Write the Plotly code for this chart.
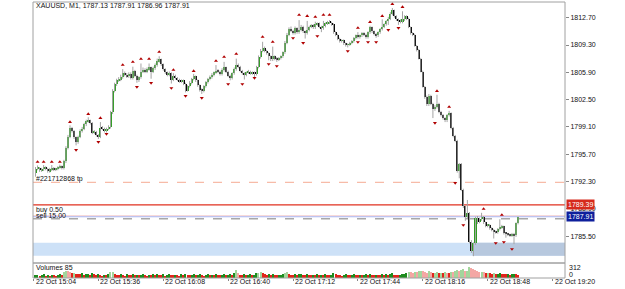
import plotly.graph_objects as go
import pandas as pd

# ---------------- data ----------------
title_text = "XAUUSD, M1, 1787.13 1787.91 1786.96 1787.91"
first_bar = "2021-10-22 15:05"
axis_origin = "2021-10-22 15:04"

opens = [
    1793.3, 1793.9, 1794.0, 1793.7, 1793.8, 1794.1, 1793.9, 1793.6, 1793.8, 1794.0,
    1793.8, 1793.9, 1794.1, 1794.2, 1794.0, 1794.8, 1796.5, 1797.9, 1799.0, 1798.6,
    1797.8, 1797.2, 1797.9, 1798.6, 1798.9, 1799.4, 1799.8, 1799.9, 1799.6, 1798.4,
    1798.5, 1798.1, 1797.8, 1799.0, 1798.9, 1798.6, 1798.9, 1799.1, 1800.9, 1803.6,
    1804.4, 1804.9, 1805.0, 1805.3, 1805.8, 1805.6, 1805.4, 1805.7, 1805.2, 1806.1,
    1805.5, 1804.9, 1805.3, 1806.0, 1806.2, 1806.0, 1806.3, 1806.5, 1806.0, 1806.4,
    1806.8, 1807.3, 1807.5, 1806.9, 1806.3, 1805.9, 1805.6, 1805.8, 1805.0, 1805.5,
    1805.2, 1805.0, 1804.8, 1804.9, 1804.5, 1803.6, 1804.2, 1804.6, 1805.1, 1805.4,
    1804.9, 1804.3, 1803.7, 1803.6, 1804.2, 1804.7, 1805.1, 1805.3, 1805.6, 1805.9,
    1806.1, 1806.0, 1805.7, 1806.2, 1806.5, 1806.0, 1805.5, 1805.2, 1805.8, 1806.3,
    1806.8, 1806.6, 1806.1, 1805.8, 1805.6, 1805.9, 1806.0, 1805.8, 1805.9, 1805.7,
    1806.6, 1807.8, 1808.6, 1808.9, 1808.6, 1808.3, 1807.9, 1807.5, 1807.9, 1807.6,
    1807.5, 1807.7, 1807.9, 1808.4, 1809.6, 1810.6, 1811.3, 1811.1, 1810.8, 1811.4,
    1810.9, 1811.2, 1811.6, 1811.0, 1810.8, 1811.2, 1811.6, 1811.8, 1811.5, 1811.9,
    1812.0, 1811.6, 1811.4, 1811.7, 1812.0, 1812.2, 1812.1, 1811.9, 1810.9, 1810.6,
    1810.1, 1809.8, 1809.9, 1809.5, 1809.3, 1809.4, 1809.6, 1809.8, 1810.2, 1810.5,
    1810.3, 1810.5, 1810.8, 1810.6, 1810.3, 1810.9, 1811.5, 1811.0, 1810.7, 1810.5,
    1810.9, 1811.3, 1811.6, 1811.9, 1812.3, 1812.6, 1813.2, 1813.6, 1812.9, 1812.5,
    1812.4, 1812.2, 1812.5, 1812.9, 1812.6, 1811.5, 1810.8, 1810.6, 1809.2, 1808.7,
    1807.6, 1806.0, 1804.1, 1802.8, 1801.9, 1803.0, 1802.0, 1801.3, 1801.6, 1802.0,
    1801.0, 1800.6, 1800.2, 1799.9, 1800.6, 1800.8, 1799.0, 1798.0, 1797.4, 1793.6,
    1794.5, 1791.3, 1789.2, 1787.9, 1788.4, 1784.8, 1783.6, 1784.6, 1787.8, 1787.3,
    1787.6, 1787.9, 1787.2, 1786.8, 1786.9, 1786.5, 1786.3, 1786.1, 1786.0, 1786.4,
    1786.6, 1786.7, 1785.9, 1785.8, 1785.7, 1785.6, 1785.8, 1785.6, 1787.13,
]
highs = [
    1794.1, 1794.3, 1794.1, 1794.0, 1794.35, 1794.2, 1794.0, 1794.0, 1794.35, 1794.1,
    1794.0, 1794.2, 1794.4, 1794.3, 1795.0, 1796.7, 1798.1, 1799.3, 1799.1, 1798.7,
    1797.9, 1798.0, 1798.8, 1799.1, 1799.6, 1800.0, 1800.3, 1800.0, 1799.7, 1798.7,
    1798.6, 1798.2, 1799.7, 1799.2, 1799.0, 1799.0, 1799.3, 1801.1, 1803.8, 1804.6,
    1805.1, 1805.3, 1805.6, 1806.3, 1806.0, 1805.8, 1805.9, 1805.9, 1806.6, 1806.2,
    1805.6, 1805.4, 1807.0, 1806.5, 1806.4, 1806.5, 1807.0, 1806.6, 1806.6, 1807.0,
    1807.6, 1807.9, 1807.6, 1807.0, 1806.4, 1806.0, 1806.0, 1805.9, 1805.8, 1805.6,
    1805.3, 1805.1, 1805.0, 1805.0, 1804.6, 1804.3, 1804.8, 1805.2, 1805.7, 1805.5,
    1805.0, 1804.4, 1803.9, 1804.3, 1804.8, 1805.2, 1805.5, 1805.8, 1806.0, 1806.8,
    1806.3, 1806.1, 1806.4, 1807.2, 1806.6, 1806.1, 1805.6, 1805.9, 1806.5, 1807.6,
    1807.0, 1806.7, 1806.2, 1805.9, 1806.0, 1806.2, 1806.1, 1806.0, 1806.0, 1806.7,
    1808.0, 1808.8, 1809.7, 1809.1, 1808.7, 1808.4, 1808.0, 1809.1, 1808.0, 1807.8,
    1807.8, 1808.0, 1808.5, 1809.8, 1810.8, 1811.5, 1811.6, 1811.2, 1811.6, 1811.5,
    1812.4, 1811.8, 1811.7, 1811.1, 1812.3, 1811.7, 1811.9, 1811.9, 1812.2, 1812.1,
    1812.1, 1811.7, 1812.3, 1812.1, 1812.3, 1812.4, 1812.2, 1812.0, 1811.0, 1810.7,
    1810.2, 1810.0, 1810.0, 1809.6, 1809.5, 1809.7, 1809.9, 1810.3, 1810.6, 1810.9,
    1810.6, 1810.9, 1810.9, 1810.7, 1811.0, 1811.7, 1811.6, 1811.1, 1810.8, 1811.0,
    1811.4, 1812.5, 1812.0, 1812.4, 1812.8, 1813.4, 1813.9, 1813.7, 1813.0, 1812.6,
    1812.5, 1813.5, 1813.0, 1813.0, 1812.7, 1811.6, 1810.9, 1810.7, 1809.3, 1808.8,
    1807.7, 1806.1, 1804.2, 1803.0, 1803.2, 1803.1, 1802.1, 1801.8, 1803.1, 1802.1,
    1801.1, 1800.7, 1800.3, 1800.7, 1801.1, 1800.9, 1799.1, 1798.1, 1797.5, 1794.6,
    1794.6, 1791.4, 1789.3, 1790.0, 1788.5, 1785.0, 1784.7, 1787.9, 1788.0, 1787.8,
    1788.4, 1788.0, 1787.3, 1787.0, 1787.0, 1786.6, 1786.4, 1786.2, 1786.5, 1787.6,
    1786.9, 1786.8, 1786.0, 1785.9, 1785.8, 1785.9, 1785.9, 1787.2, 1787.91,
]
lows = [
    1792.9, 1793.7, 1793.5, 1793.5, 1793.6, 1793.7, 1793.4, 1793.4, 1793.6, 1793.6,
    1793.6, 1793.7, 1793.9, 1793.8, 1793.8, 1794.6, 1796.3, 1797.7, 1798.4, 1797.6,
    1796.8, 1797.0, 1797.7, 1798.4, 1798.7, 1799.2, 1799.6, 1799.4, 1798.2, 1798.2,
    1797.9, 1797.6, 1797.7, 1798.7, 1798.4, 1798.4, 1798.7, 1798.9, 1800.7, 1803.4,
    1804.2, 1804.7, 1804.8, 1805.1, 1805.4, 1805.2, 1805.2, 1805.0, 1805.0, 1805.3,
    1804.6, 1804.7, 1805.1, 1805.8, 1805.8, 1805.8, 1806.1, 1805.1, 1805.8, 1806.2,
    1806.6, 1807.1, 1806.7, 1806.1, 1805.7, 1805.4, 1805.4, 1804.5, 1804.8, 1805.0,
    1804.8, 1804.6, 1804.6, 1804.3, 1803.4, 1803.5, 1804.0, 1804.4, 1804.9, 1804.7,
    1804.1, 1803.5, 1803.2, 1803.4, 1804.0, 1804.5, 1804.9, 1805.1, 1805.4, 1805.7,
    1805.8, 1805.5, 1805.5, 1806.0, 1805.8, 1805.3, 1804.9, 1805.0, 1805.6, 1806.1,
    1806.4, 1805.9, 1805.6, 1805.0, 1805.4, 1805.7, 1805.6, 1805.6, 1805.3, 1805.5,
    1806.4, 1807.6, 1808.4, 1808.4, 1808.1, 1807.4, 1807.3, 1807.3, 1807.4, 1807.2,
    1807.3, 1807.5, 1807.7, 1808.2, 1809.4, 1810.4, 1810.9, 1810.6, 1810.6, 1810.7,
    1810.7, 1811.0, 1810.8, 1810.1, 1810.6, 1811.0, 1811.4, 1811.3, 1811.3, 1811.7,
    1811.4, 1810.9, 1811.2, 1811.5, 1811.8, 1811.9, 1811.7, 1810.7, 1810.4, 1809.9,
    1809.6, 1809.6, 1809.3, 1809.1, 1809.0, 1809.2, 1809.4, 1809.6, 1810.0, 1810.1,
    1810.1, 1810.3, 1810.4, 1810.1, 1810.1, 1810.7, 1810.8, 1810.5, 1810.2, 1810.3,
    1810.7, 1811.1, 1811.4, 1811.7, 1811.8, 1812.4, 1813.0, 1812.7, 1812.3, 1811.8,
    1812.0, 1812.0, 1812.3, 1812.4, 1811.4, 1810.6, 1810.4, 1809.1, 1808.5, 1807.5,
    1805.9, 1804.0, 1802.6, 1801.7, 1801.7, 1801.8, 1800.2, 1801.1, 1801.4, 1800.8,
    1800.4, 1800.0, 1799.7, 1799.7, 1800.4, 1798.8, 1797.8, 1797.2, 1793.4, 1792.7,
    1791.1, 1789.0, 1787.4, 1787.7, 1784.6, 1783.4, 1783.0, 1784.4, 1787.0, 1787.1,
    1787.4, 1787.0, 1786.6, 1786.6, 1786.3, 1786.1, 1785.2, 1785.8, 1785.8, 1786.2,
    1786.4, 1785.7, 1785.3, 1785.5, 1785.4, 1785.4, 1784.5, 1785.4, 1786.96,
]
closes = [
    1793.9, 1794.0, 1793.7, 1793.8, 1794.1, 1793.9, 1793.6, 1793.8, 1794.0, 1793.8,
    1793.9, 1794.1, 1794.2, 1794.0, 1794.8, 1796.5, 1797.9, 1799.0, 1798.6, 1797.8,
    1797.2, 1797.9, 1798.6, 1798.9, 1799.4, 1799.8, 1799.9, 1799.6, 1798.4, 1798.5,
    1798.1, 1797.8, 1799.0, 1798.9, 1798.6, 1798.9, 1799.1, 1800.9, 1803.6, 1804.4,
    1804.9, 1805.0, 1805.3, 1805.8, 1805.6, 1805.4, 1805.7, 1805.2, 1806.1, 1805.5,
    1804.9, 1805.3, 1806.0, 1806.2, 1806.0, 1806.3, 1806.5, 1806.0, 1806.4, 1806.8,
    1807.3, 1807.5, 1806.9, 1806.3, 1805.9, 1805.6, 1805.8, 1805.0, 1805.5, 1805.2,
    1805.0, 1804.8, 1804.9, 1804.5, 1803.6, 1804.2, 1804.6, 1805.1, 1805.4, 1804.9,
    1804.3, 1803.7, 1803.6, 1804.2, 1804.7, 1805.1, 1805.3, 1805.6, 1805.9, 1806.1,
    1806.0, 1805.7, 1806.2, 1806.5, 1806.0, 1805.5, 1805.2, 1805.8, 1806.3, 1806.8,
    1806.6, 1806.1, 1805.8, 1805.6, 1805.9, 1806.0, 1805.8, 1805.9, 1805.7, 1806.6,
    1807.8, 1808.6, 1808.9, 1808.6, 1808.3, 1807.9, 1807.5, 1807.9, 1807.6, 1807.5,
    1807.7, 1807.9, 1808.4, 1809.6, 1810.6, 1811.3, 1811.1, 1810.8, 1811.4, 1810.9,
    1811.2, 1811.6, 1811.0, 1810.8, 1811.2, 1811.6, 1811.8, 1811.5, 1811.9, 1812.0,
    1811.6, 1811.4, 1811.7, 1812.0, 1812.2, 1812.1, 1811.9, 1810.9, 1810.6, 1810.1,
    1809.8, 1809.9, 1809.5, 1809.3, 1809.4, 1809.6, 1809.8, 1810.2, 1810.5, 1810.3,
    1810.5, 1810.8, 1810.6, 1810.3, 1810.9, 1811.5, 1811.0, 1810.7, 1810.5, 1810.9,
    1811.3, 1811.6, 1811.9, 1812.3, 1812.6, 1813.2, 1813.6, 1812.9, 1812.5, 1812.4,
    1812.2, 1812.5, 1812.9, 1812.6, 1811.5, 1810.8, 1810.6, 1809.2, 1808.7, 1807.6,
    1806.0, 1804.1, 1802.8, 1801.9, 1803.0, 1802.0, 1801.3, 1801.6, 1802.0, 1801.0,
    1800.6, 1800.2, 1799.9, 1800.6, 1800.8, 1799.0, 1798.0, 1797.4, 1793.6, 1794.5,
    1791.3, 1789.2, 1787.9, 1788.4, 1784.8, 1783.6, 1784.6, 1787.8, 1787.3, 1787.6,
    1787.9, 1787.2, 1786.8, 1786.9, 1786.5, 1786.3, 1786.1, 1786.0, 1786.4, 1786.6,
    1786.7, 1785.9, 1785.8, 1785.7, 1785.6, 1785.8, 1785.6, 1787.13, 1787.91,
]
volumes = [
    72, 95, 64, 88, 105, 70, 82, 60, 98, 75,
    66, 90, 110, 84, 175, 210, 195, 160, 140, 150,
    125, 118, 105, 130, 98, 112, 120, 95, 128, 102,
    90, 115, 85, 70, 96, 80, 110, 165, 180, 120,
    88, 75, 100, 92, 68, 110, 85, 78, 104, 90,
    96, 72, 88, 115, 80, 70, 98, 84, 108, 76,
    112, 95, 82, 105, 70, 88, 120, 92, 74, 98,
    80, 66, 102, 90, 118, 85, 72, 95, 105, 78,
    88, 110, 92, 70, 84, 100, 76, 95, 88, 112,
    80, 72, 98, 106, 84, 90, 115, 78, 140, 220,
    150, 96, 85, 110, 72, 88, 100, 80, 95, 130,
    150, 165, 140, 100, 88, 105, 92, 118, 84, 76,
    90, 98, 110, 145, 160, 120, 96, 84, 110, 92,
    100, 115, 88, 76, 105, 92, 80, 98, 86, 110,
    84, 96, 78, 102, 90, 74, 88, 130, 110, 96,
    84, 70, 92, 105, 88, 76, 98, 110, 90, 82,
    95, 78, 86, 100, 92, 110, 84, 76, 98, 88,
    80, 105, 96, 110, 88, 120, 135, 98, 90, 84,
    96, 110, 125, 140, 175, 160, 150, 180, 165, 190,
    200, 185, 170, 150, 210, 160, 140, 150, 170, 135,
    150, 140, 160, 145, 130, 180, 170, 190, 240, 200,
    230, 250, 200, 210, 312, 290, 260, 240, 200, 170,
    180, 160, 140, 150, 130, 120, 145, 110, 125, 140,
    120, 110, 100, 115, 95, 105, 120, 110, 85,
]

# fractal arrows: bar number (minutes after 15:04) and price of the arrow
up_frac_bar = [2, 5, 9, 13, 18, 27, 33, 44, 49, 53, 57, 62, 69, 79, 90, 94, 100,
               113, 118, 131, 135, 139, 143, 146, 160, 166, 172, 177, 182, 199, 205,
               222, 231]
up_frac_price = [1794.73, 1794.73, 1794.73, 1794.73, 1799.71, 1800.7, 1800.2,
                 1806.81, 1807.19, 1807.56, 1807.56, 1808.43, 1806.19, 1806.06,
                 1807.31, 1807.81, 1808.19, 1810.3, 1809.68, 1813.04, 1812.91,
                 1812.79, 1813.04, 1813.04, 1811.42, 1812.16, 1812.91, 1814.4,
                 1814.03, 1803.57, 1801.58, 1788.88, 1788.13]
dn_frac_bar = [21, 32, 36, 51, 58, 68, 75, 83, 96, 103, 109, 116, 120, 128, 133,
               140, 155, 160, 165, 169, 175, 180, 198, 208, 212, 228, 232, 236]
dn_frac_price = [1796.23, 1797.22, 1798.22, 1804.07, 1804.57, 1803.94, 1802.95,
                 1802.7, 1804.44, 1804.44, 1805.19, 1806.93, 1806.68, 1810.17,
                 1809.55, 1810.42, 1808.55, 1809.67, 1809.67, 1809.67, 1811.17,
                 1811.42, 1799.59, 1792.12, 1786.88, 1784.63, 1784.75, 1783.88]

time_labels = ["15:04", "15:36", "16:08", "16:40", "17:12", "17:44", "18:16", "18:48", "19:20"]
price_ticks = [1785.50, 1788.90, 1792.30, 1795.70, 1799.10, 1802.50, 1805.90, 1809.30, 1812.70]
volume_max_label = "312"
volume_now_label = "Volumes 85"

stop_level = 1789.39
bid_level = 1787.91
ask_level = 1788.02
order_level = 1787.67
tp_level = 1792.2
tp_label = "#221712868 tp"
order_labels = ["buy 0.50", "sell 15.00"]
zone_low, zone_high = 1783.06, 1784.68
zone_dark_start = "2021-10-22 18:40:30"

# ---------------- figure ----------------
origin = pd.Timestamp(axis_origin)
times = pd.date_range(first_bar, periods=len(closes), freq="min")
x_start = origin - pd.Timedelta(seconds=15)
x_end = x_start + pd.Timedelta(minutes=262.4)

PLOT_TOP, PLOT_BOT = 2, 278
PH = PLOT_BOT - PLOT_TOP
def paper_y(px):
    return (PLOT_BOT - px) / PH

split = paper_y(263)

FONT = "Liberation Sans, Arial, sans-serif"

fig = go.Figure()

# wicks
wx, wy = [], []
for t, h, l in zip(times, highs, lows):
    wx += [t, t, None]
    wy += [l, h, None]
fig.add_trace(go.Scatter(x=wx, y=wy, mode="lines", line=dict(color="#a4a4a4", width=1),
                         hoverinfo="skip", xaxis="x", yaxis="y"))

# bodies
bases, heights, bcolors = [], [], []
for o, c in zip(opens, closes):
    lo = min(o, c)
    hgt = max(abs(c - o), 0.08)
    bases.append(lo)
    heights.append(hgt)
    bcolors.append("#2f9e22" if c > o else "#000000")
fig.add_trace(go.Bar(x=times, y=heights, base=bases, width=60000,
                     marker=dict(color=bcolors, line=dict(width=0)),
                     xaxis="x", yaxis="y"))

# fractals
fig.add_trace(go.Scatter(x=[origin + pd.Timedelta(minutes=m) for m in up_frac_bar], y=up_frac_price,
                         mode="markers", marker=dict(symbol="triangle-up", size=3.5, color="#b00000"),
                         xaxis="x", yaxis="y"))
fig.add_trace(go.Scatter(x=[origin + pd.Timedelta(minutes=m) for m in dn_frac_bar], y=dn_frac_price,
                         mode="markers", marker=dict(symbol="triangle-down", size=3.5, color="#b00000"),
                         xaxis="x", yaxis="y"))

# volumes
vcolors = []
prev = None
for v in volumes:
    up = prev is None or v >= prev
    light = v > 140
    if up:
        vcolors.append("#a3d69c" if light else "#1e8c1e")
    else:
        vcolors.append("#f4a7a4" if light else "#e2231b")
    prev = v
fig.add_trace(go.Bar(x=times, y=volumes, width=34000,
                     marker=dict(color=vcolors, line=dict(width=0)),
                     xaxis="x", yaxis="y2"))

shapes = [
    dict(type="rect", xref="x", yref="y", x0=x_start, x1=x_end, y0=zone_low, y1=zone_high,
         fillcolor="#cde1f7", line=dict(width=0), layer="below"),
    dict(type="rect", xref="x", yref="y", x0=pd.Timestamp(zone_dark_start), x1=x_end,
         y0=zone_low, y1=zone_high, fillcolor="#b7c8de", line=dict(width=0), layer="below"),
    dict(type="line", xref="paper", yref="y", x0=0, x1=1, y0=tp_level, y1=tp_level,
         line=dict(color="#f6ab93", width=1, dash="dash"), layer="below"),
    dict(type="line", xref="paper", yref="y", x0=0, x1=1, y0=stop_level, y1=stop_level,
         line=dict(color="#e0301f", width=1.4), layer="below"),
    dict(type="line", xref="paper", yref="y", x0=0, x1=1, y0=ask_level, y1=ask_level,
         line=dict(color="#f2c4c4", width=1), layer="below"),
    dict(type="line", xref="paper", yref="y", x0=0, x1=1, y0=bid_level, y1=bid_level,
         line=dict(color="#aab6f2", width=1), layer="below"),
    dict(type="line", xref="paper", yref="y", x0=0, x1=1, y0=order_level, y1=order_level,
         line=dict(color="#a8a8a8", width=1.5, dash="dash"), layer="below"),
    dict(type="rect", xref="paper", yref="paper", x0=0, x1=1, y0=split, y1=1,
         line=dict(color="#a0a0a0", width=1)),
    dict(type="rect", xref="paper", yref="paper", x0=0, x1=1, y0=0, y1=split,
         line=dict(color="#a0a0a0", width=1)),
]

small = dict(family=FONT, size=7, color="#111111")
annotations = [
    dict(text=title_text, xref="paper", yref="paper", x=0, y=paper_y(6), xshift=1,
         xanchor="left", yanchor="middle", showarrow=False, font=small),
    dict(text=tp_label, xref="paper", yref="paper", x=0, y=paper_y(178.5), xshift=1,
         xanchor="left", yanchor="middle", showarrow=False, font=small),
    dict(text=order_labels[0], xref="paper", yref="paper", x=0, y=paper_y(209.5), xshift=1,
         xanchor="left", yanchor="middle", showarrow=False, font=small),
    dict(text=order_labels[1], xref="paper", yref="paper", x=0, y=paper_y(215.5), xshift=1,
         xanchor="left", yanchor="middle", showarrow=False, font=small),
    dict(text=volume_now_label, xref="paper", yref="paper", x=0, y=paper_y(267), xshift=1,
         xanchor="left", yanchor="middle", showarrow=False, font=small),
    dict(text=volume_max_label, xref="paper", yref="paper", x=1, y=paper_y(267), xshift=2,
         xanchor="left", yanchor="middle", showarrow=False, font=small),
    dict(text="0", xref="paper", yref="paper", x=1, y=paper_y(274.5), xshift=2,
         xanchor="left", yanchor="middle", showarrow=False, font=small),
    dict(text=f"{stop_level:.2f}", xref="paper", yref="y", x=1, y=stop_level, xshift=1,
         xanchor="left", yanchor="middle", showarrow=False, bgcolor="#d62a1c",
         borderpad=1, font=dict(family=FONT, size=7, color="white")),
    dict(text=f"{bid_level:.2f}", xref="paper", yref="y", x=1, y=bid_level, xshift=1,
         xanchor="left", yanchor="middle", showarrow=False, bgcolor="#0e1f9c",
         borderpad=1, font=dict(family=FONT, size=7, color="white")),
]
for lab in time_labels:
    annotations.append(dict(text="22 Oct " + lab, xref="x", yref="paper",
                            x=pd.Timestamp("2021-10-22 " + lab), y=paper_y(281.5),
                            xanchor="left", yanchor="middle", showarrow=False, font=small))

fig.update_layout(
    width=625, height=289,
    margin=dict(l=33, r=60, t=PLOT_TOP, b=289 - PLOT_BOT),
    paper_bgcolor="white", plot_bgcolor="white",
    showlegend=False, barmode="overlay", bargap=0,
    xaxis=dict(range=[x_start, x_end], anchor="y2", showgrid=False, zeroline=False,
               showticklabels=False, ticks="outside", ticklen=2, tickcolor="#888888",
               tickvals=[pd.Timestamp("2021-10-22 " + l) for l in time_labels],
               showline=False),
    yaxis=dict(domain=[split, 1], range=[1782.15, 1814.655], side="right",
               showgrid=False, zeroline=False, tickvals=price_ticks,
               ticktext=[f"{p:.2f}" for p in price_ticks], ticks="outside", ticklen=3,
               tickcolor="#888888", tickfont=small, showline=False, anchor="x"),
    yaxis2=dict(domain=[0, split], range=[0, 425], side="right", showgrid=False,
                zeroline=False, showticklabels=False, showline=False, anchor="x"),
    shapes=shapes, annotations=annotations,
)

fig.write_html("out.html")
